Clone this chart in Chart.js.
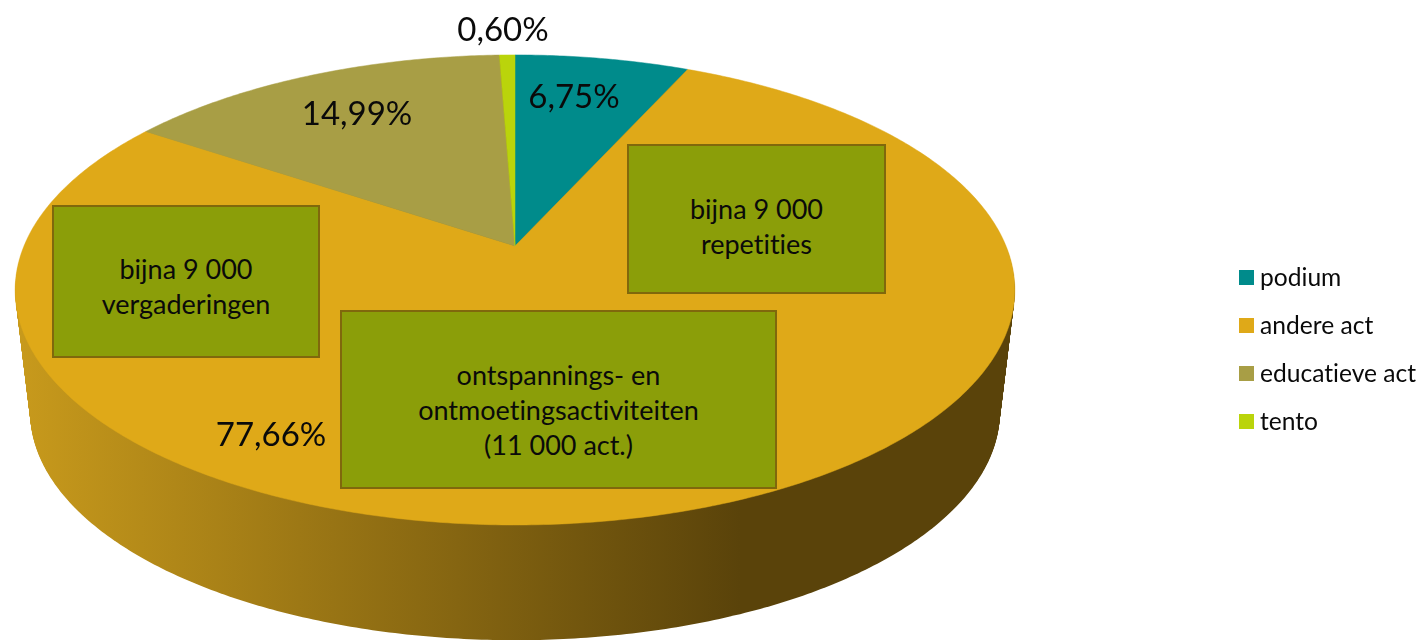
<!DOCTYPE html>
<html lang="nl">
<head>
<meta charset="UTF-8">
<title>Activiteiten</title>
<script src="https://cdn.jsdelivr.net/npm/chart.js"></script>
<style>
    html, body { margin: 0; padding: 0; background: #fff; overflow: hidden; }
    #wrap { position: relative; width: 1425px; height: 640px; font-family: Lato, sans-serif; color: #0a0a0a; font-variant-ligatures: none; }
    #chart { position: absolute; left: 0; top: 0; }
    .pct { position: absolute; font-size: 33px; line-height: 36px; transform: translate(-50%, -50%); white-space: nowrap; }
    .note { position: absolute; box-sizing: border-box; background: #8b9e09; border: 2px solid #80680c;
            text-align: center; font-size: 27px; line-height: 35px; white-space: nowrap; }
    .leg { position: absolute; left: 1260px; font-size: 24.6px; line-height: 28px; transform: translateY(-50%); white-space: nowrap; }
    .sw { position: absolute; left: 1239px; width: 15px; height: 15px; }
</style>
</head>
<body>
<div id="wrap">
    <canvas id="chart" width="1425" height="640"></canvas>
</div>
<script>
const categories = ['podium', 'andere act', 'educatieve act', 'tento'];
const shares = [6.75, 77.66, 14.99, 0.60];
const sliceColors = ['#008b8b', '#dfa918', '#a89e45', '#bad40b'];

// where the percentages and text boxes sit
const pctPos = [[574, 95], [271, 433], [357, 112], [503, 28]];
const notes = [
    { x: 627, y: 144, w: 259, h: 150, pad: 45, lines: ['bijna 9 000', 'repetities'] },
    { x: 52, y: 205, w: 268, h: 153, pad: 44, lines: ['bijna 9 000', 'vergaderingen'] },
    { x: 340, y: 310, w: 437, h: 179, pad: 45, lines: ['ontspannings- en', 'ontmoetingsactiviteiten', '(11 000 act.)'] }
];
const legendY = [277, 325, 373, 421];

// perspective of the tilted disc
const view = { cx: 515, cy: 246, a: 491, b: 226.8, p: 0.187, bottomScale: 0.97, bottomCy: 369.6 };

function project(angle, scale, cy) {
    const u = Math.cos(angle), v = Math.sin(angle);
    const w = 1 - view.p * v;
    return [view.cx + view.a * scale * u / w, cy + view.b * scale * v / w];
}

function rimPath(ctx, from, to, scale, cy) {
    const steps = Math.max(2, Math.ceil((to - from) / 0.01));
    for (let i = 0; i <= steps; i++) {
        const pt = project(from + (to - from) * i / steps, scale, cy);
        ctx.lineTo(pt[0], pt[1]);
    }
}

// replaces the flat pie drawing with the 3D one, using the arcs chart.js computed
const pie3d = {
    id: 'pie3d',
    beforeDatasetDraw(chart) {
        const ctx = chart.ctx;
        const arcs = chart.getDatasetMeta(0).data;

        const wall = ctx.createLinearGradient(17, 0, 740, 0);
        wall.addColorStop(0, '#c89a1c');
        wall.addColorStop(1, '#5a430a');
        ctx.fillStyle = wall;
        const layers = 124;
        for (let i = 0; i < layers; i++) {
            const t = i / layers;
            const s = view.bottomScale + (1 - view.bottomScale) * t;
            const cy = view.bottomCy + (view.cy - view.bottomCy) * t;
            ctx.beginPath();
            rimPath(ctx, 0, Math.PI * 2, s, cy);
            ctx.closePath();
            ctx.fill();
        }

        arcs.forEach(arc => {
            const { startAngle, endAngle } = arc.getProps(['startAngle', 'endAngle'], true);
            ctx.beginPath();
            ctx.moveTo(view.cx, view.cy);
            rimPath(ctx, startAngle, endAngle, 1, view.cy);
            ctx.closePath();
            ctx.fillStyle = arc.options.backgroundColor;
            ctx.fill();
            ctx.strokeStyle = arc.options.backgroundColor;
            ctx.lineWidth = 0.5;
            ctx.stroke();
        });
        return false;
    }
};

new Chart(document.getElementById('chart'), {
    type: 'pie',
    data: {
        labels: categories,
        datasets: [{ data: shares, backgroundColor: sliceColors, borderWidth: 0 }]
    },
    options: {
        responsive: false,
        animation: false,
        plugins: { legend: { display: false }, tooltip: { enabled: false } }
    },
    plugins: [pie3d]
});

// text on top of the canvas
const wrap = document.getElementById('wrap');

function addDiv(cls, style, html) {
    const d = document.createElement('div');
    d.className = cls;
    Object.assign(d.style, style);
    d.innerHTML = html;
    wrap.appendChild(d);
}

shares.forEach((v, i) => {
    addDiv('pct', { left: pctPos[i][0] + 'px', top: pctPos[i][1] + 'px' }, v.toFixed(2).replace('.', ',') + '%');
});

notes.forEach(n => {
    addDiv('note', { left: n.x + 'px', top: n.y + 'px', width: n.w + 'px', height: n.h + 'px', paddingTop: n.pad + 'px' },
        n.lines.join('<br>'));
});

categories.forEach((name, i) => {
    addDiv('sw', { top: (legendY[i] - 7) + 'px', background: sliceColors[i] }, '');
    addDiv('leg', { top: legendY[i] + 'px' }, name);
});
</script>
</body>
</html>
